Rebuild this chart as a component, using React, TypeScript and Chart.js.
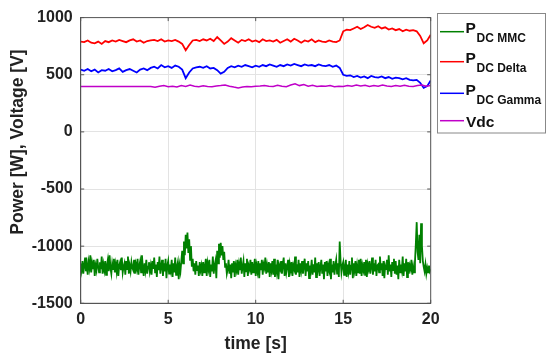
import React, { useEffect, useRef } from "react";
import { Chart, registerables } from "chart.js";

Chart.register(...registerables);

// ---- data ----
const X_MIN = 0;
const X_MAX = 20;
const Y_MIN = -1500;
const Y_MAX = 1000;
const xTickStep = 5;
const yTickStep = 500;
const xTitle = "time [s]";
const yTitle = "Power [W], Voltage [V]";

// sample step (s) for each series
const stepMMC = 0.05;
const stepDelta = 0.2;
const stepGamma = 0.2;
const stepVdc = 0.25;

const pdcMMC = [
  -1150, -1210, -1130, -1240, -1170, -1100, -1220, -1160, -1250, -1140, -1190, -1080, -1230, -1150, -1200, -1120, -1260, -1170, -1210, -1110,
  -1180, -1230, -1140, -1200, -1090, -1240, -1160, -1210, -1130, -1250, -1170, -1120, -1220, -1080, -1190, -1240, -1150, -1200, -1110, -1230,
  -1160, -1220, -1120, -1260, -1170, -1140, -1210, -1100, -1230, -1180, -1150, -1250, -1130, -1200, -1090, -1240, -1170, -1220, -1140, -1190,
  -1210, -1120, -1240, -1160, -1200, -1110, -1250, -1170, -1130, -1230, -1080, -1190, -1260, -1150, -1210, -1120, -1240, -1180, -1140, -1220,
  -1170, -1250, -1130, -1200, -1100, -1230, -1160, -1270, -1140, -1210, -1090, -1240, -1180, -1120, -1260, -1150, -1220, -1110, -1280, -1170,
  -1130, -1240, -1160, -1210, -1120, -1270, -1150, -1230, -1100, -1250, -1180, -1140, -1290, -1170, -1220, -1130, -1040, -1150, -960, -1080,
  -900, -1020, -880, -1060, -940, -1120, -1000, -1180, -1110, -1220, -1150, -1250, -1130, -1210, -1170, -1260, -1140, -1210, -1170, -1260,
  -1140, -1230, -1180, -1110, -1260, -1150, -1200, -1120, -1270, -1160, -1220, -1090, -1240, -1170, -1130, -1280, -1040, -1150, -980, -1100,
  -970, -1080, -1000, -1120, -1050, -1180, -1150, -1240, -1200, -1120, -1240, -1160, -1280, -1150, -1230, -1130, -1270, -1170, -1210, -1120,
  -1250, -1160, -1210, -1100, -1240, -1180, -1130, -1270, -1150, -1220, -1110, -1260, -1170, -1200, -1120, -1250, -1140, -1230, -1180, -1110,
  -1260, -1170, -1220, -1130, -1280, -1150, -1210, -1120, -1250, -1160, -1190, -1100, -1240, -1170, -1230, -1140, -1270, -1150, -1210, -1130,
  -1250, -1110, -1270, -1160, -1220, -1120, -1290, -1170, -1200, -1130, -1240, -1160, -1100, -1260, -1150, -1230, -1180, -1120, -1270, -1160,
  -1210, -1140, -1260, -1170, -1200, -1090, -1250, -1160, -1230, -1120, -1270, -1150, -1210, -1130, -1240, -1170, -1110, -1260, -1150, -1220,
  -1130, -1280, -1170, -1210, -1120, -1250, -1160, -1230, -1100, -1270, -1150, -1200, -1140, -1260, -1180, -1120, -1240, -1160, -1290, -1140,
  -1220, -1130, -1260, -1170, -1210, -1110, -1290, -1160, -1230, -1130, -1250, -1170, -1120, -1240, -1150, -1270, -960, -1130, -1230, -1170,
  -1140, -1250, -1180, -1120, -1270, -1160, -1220, -1130, -1250, -1170, -1100, -1280, -1150, -1210, -1130, -1260, -1170, -1230, -1120, -1240,
  -1110, -1260, -1170, -1210, -1140, -1250, -1120, -1270, -1160, -1200, -1130, -1240, -1180, -1100, -1250, -1150, -1220, -1120, -1260, -1170,
  -1160, -1230, -1090, -1210, -1150, -1260, -1130, -1280, -1170, -1200, -1120, -1250, -1080, -1220, -1160, -1270, -1140, -1210, -1110, -1240,
  -1130, -1250, -1170, -1290, -1120, -1230, -1160, -1210, -1090, -1260, -1150, -1220, -1110, -1270, -1140, -1240, -1170, -1200, -1120, -1250,
  -1180, -1230, -1140, -980, -790, -1050, -1120, -900, -1150, -800, -1000, -1130, -1180, -1220, -1160, -1240, -1190, -1230, -1170, -1220,
  -1200,
];

const pdcDelta = [
  790, 785, 800, 780, 775, 790, 770, 795, 785, 800,
  790, 805, 795, 785, 800, 810, 790, 800, 780, 795,
  800, 805, 795, 810, 790, 800, 795, 805, 790, 770,
  715, 760, 800, 805, 795, 810, 800, 815, 795, 830,
  800, 770, 790, 820, 800, 780, 805, 795, 810, 790,
  800, 785, 810, 795, 800, 790, 805, 780, 795, 810,
  790, 815, 800, 780, 800, 790, 810, 785, 800, 790,
  785, 800, 790, 785, 800, 880, 895, 890, 905, 920,
  900, 915, 935, 920, 910, 925, 905, 915, 895, 905,
  890, 900, 880, 895, 885, 890, 880, 840, 775, 800,
  850,
];

const pdcGamma = [
  545, 535, 550, 530, 545, 520, 540, 535, 550, 530,
  540, 555, 525, 540, 550, 535, 520, 545, 555, 540,
  560, 570, 555, 585, 565, 575, 560, 580, 570, 545,
  470, 520, 555, 565, 570, 560, 575, 555, 560, 540,
  510, 525, 560, 575, 565, 580, 570, 585, 575, 565,
  580, 570, 585, 575, 590, 580, 570, 585, 575, 590,
  580, 595, 585, 575, 590, 580, 585, 575, 590, 580,
  575, 585, 570, 580, 560, 500, 490, 495, 480, 490,
  475, 485, 470, 490, 480, 475, 485, 470, 480, 465,
  475, 470, 460, 470, 455, 450, 455, 430, 385, 400,
  450,
];

const vdc = [
  398, 398, 398, 397, 398, 398, 398, 397, 398, 398, 398, 398, 398, 398, 398, 397,
  397, 390, 400, 405, 395, 400, 392, 405, 398, 410,
  400, 395, 403, 398, 395, 402, 405, 410, 400, 392,
  385, 392, 398, 395, 400, 402, 405, 400, 398, 408,
  400, 395, 410, 420, 405, 415, 400, 408, 398, 402,
  400, 405, 395, 400, 398, 405, 400, 410, 402, 408,
  398, 405, 400, 410, 402, 398, 405, 400, 408, 400,
  398, 405, 410, 400, 405,
];

const seriesMain = ["P", "P", "P", "Vdc"];
const seriesSub = ["DC MMC", "DC Delta", "DC Gamma", ""];
const seriesColors = ["#008000", "#ff0000", "#0000ff", "#c000c8"];

const FONT = "'Liberation Sans', Arial, Helvetica, sans-serif";

function toPoints(values: number[], step: number) {
  return values.map((v, i) => ({ x: Math.round(i * step * 1000) / 1000, y: v }));
}

const decorPlugin = {
  id: "decor",
  afterDraw(chart: any) {
    const ctx = chart.ctx as CanvasRenderingContext2D;
    const a = chart.chartArea;
    const xs = chart.scales.x;
    const ys = chart.scales.y;
    ctx.save();
    // box
    ctx.strokeStyle = "#555";
    ctx.lineWidth = 1;
    ctx.strokeRect(a.left, a.top, a.right - a.left, a.bottom - a.top);
    // inward ticks
    const tl = 3.5;
    ctx.beginPath();
    for (let v = X_MIN; v <= X_MAX; v += xTickStep) {
      const px = xs.getPixelForValue(v);
      ctx.moveTo(px, a.bottom);
      ctx.lineTo(px, a.bottom - tl);
      ctx.moveTo(px, a.top);
      ctx.lineTo(px, a.top + tl);
    }
    for (let v = Y_MIN; v <= Y_MAX; v += yTickStep) {
      const py = ys.getPixelForValue(v);
      ctx.moveTo(a.left, py);
      ctx.lineTo(a.left + tl, py);
      ctx.moveTo(a.right, py);
      ctx.lineTo(a.right - tl, py);
    }
    ctx.stroke();

    // axis titles
    ctx.fillStyle = "#222";
    ctx.font = `bold 17.5px ${FONT}`;
    ctx.textAlign = "center";
    ctx.textBaseline = "middle";
    ctx.fillText(xTitle, (a.left + a.right) / 2, 344);
    ctx.save();
    ctx.translate(18, 142);
    ctx.rotate(-Math.PI / 2);
    ctx.fillText(yTitle, 0, 0);
    ctx.restore();

    // legend box
    const lx = 437.5, ly = 13.5, lw = 108, lh = 119.5;
    ctx.fillStyle = "#fff";
    ctx.fillRect(lx, ly, lw, lh);
    ctx.strokeStyle = "#888";
    ctx.lineWidth = 1;
    ctx.strokeRect(lx, ly, lw, lh);
    const rowY = [31.7, 61.7, 93.3, 120.7];
    for (let i = 0; i < seriesMain.length; i++) {
      const y = rowY[i];
      ctx.strokeStyle = seriesColors[i];
      ctx.lineWidth = 1.5;
      ctx.beginPath();
      ctx.moveTo(440, y);
      ctx.lineTo(464, y);
      ctx.stroke();
      ctx.fillStyle = "#111";
      ctx.textAlign = "left";
      ctx.textBaseline = "alphabetic";
      ctx.font = `bold 15.5px ${FONT}`;
      if (seriesSub[i]) {
        ctx.fillText(seriesMain[i], 465.5, y + 1.5);
        ctx.font = `bold 12px ${FONT}`;
        ctx.fillText(seriesSub[i], 476.5, y + 10.5);
      } else {
        ctx.fillText(seriesMain[i], 466, y + 6);
      }
    }
    ctx.restore();
  },
};

export default function App() {
  const ref = useRef<HTMLCanvasElement | null>(null);
  useEffect(() => {
    if (!ref.current) return;
    const tickFont = { family: FONT, size: 16, weight: "bold" as const };
    const mk = (label: string, values: number[], step: number, color: string, order: number, width: number) => ({
      label,
      data: toPoints(values, step),
      borderColor: color,
      backgroundColor: color,
      borderWidth: width,
      pointRadius: 0,
      tension: 0,
      fill: false,
      order,
    });
    const plain = (v: any) => String(v);
    const chart = new Chart(ref.current, {
      type: "line",
      data: {
        datasets: [
          mk("PDC MMC", pdcMMC, stepMMC, seriesColors[0], 4, 1.8),
          mk("PDC Delta", pdcDelta, stepDelta, seriesColors[1], 3, 1.8),
          mk("PDC Gamma", pdcGamma, stepGamma, seriesColors[2], 2, 1.8),
          mk("Vdc", vdc, stepVdc, seriesColors[3], 1, 1.5),
        ],
      },
      options: {
        responsive: false,
        animation: false,
        layout: { padding: { left: 0, top: 13.2, right: 119.3, bottom: 0 } },
        plugins: { legend: { display: false }, tooltip: { enabled: false } },
        scales: {
          x: {
            type: "linear",
            min: X_MIN,
            max: X_MAX,
            ticks: { stepSize: xTickStep, font: tickFont, color: "#222", padding: 7, maxRotation: 0, callback: plain },
            grid: { color: "#e3e3e3", drawTicks: false, lineWidth: 1 },
            border: { display: true, color: "#555", width: 1 },
            afterFit: (s: any) => {
              s.height = 54.7;
            },
          },
          y: {
            type: "linear",
            min: Y_MIN,
            max: Y_MAX,
            ticks: { stepSize: yTickStep, font: tickFont, color: "#222", padding: 8, callback: plain },
            grid: { color: "#e3e3e3", drawTicks: false, lineWidth: 1 },
            border: { display: true, color: "#555", width: 1 },
            afterFit: (s: any) => {
              s.width = 80.7;
            },
          },
        },
      },
      plugins: [decorPlugin],
    });
    return () => chart.destroy();
  }, []);
  return (
    <div style={{ position: "absolute", left: 0, top: 0, width: 550, height: 358, background: "#fff" }}>
      <canvas ref={ref} width={550} height={358} />
    </div>
  );
}
